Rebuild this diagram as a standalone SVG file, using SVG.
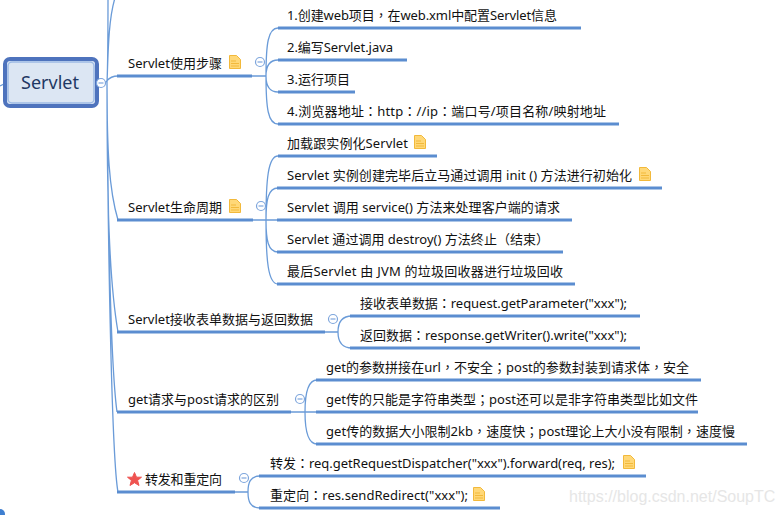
<svg xmlns="http://www.w3.org/2000/svg" width="782" height="515" viewBox="0 0 782 515">
<style>
text{font-family:"Noto Sans","Noto Sans CJK SC",sans-serif;font-size:13px;fill:#111}
tspan{font-family:"Noto Sans CJK TC",sans-serif}
.u{stroke:#5b8dd0;stroke-width:3;fill:none}
.c{stroke:#6a9bd8;stroke-width:1.300;fill:none}
.k{fill:#fff;stroke:#7da5dc;stroke-width:1.200}
.m{stroke:#7da5dc;stroke-width:1.200}
.n{fill:#ffd878;stroke:#f2b93b;stroke-width:1}
.l{stroke:#f2b93b;stroke-width:1}
</style>
<defs>
<g id="note"><path class="n" d="M0.500 0.500H7.500L11.500 4.500V13.500H0.500Z"/><path class="l" d="M2 6H7M2 8.500H10M2 11H10" fill="none"/></g>
<g id="tog"><circle class="k" r="4.500"/><path class="m" d="M-2.500 0H2.500"/></g>
</defs>
<rect width="782" height="515" fill="#fff"/>
<g id="connectors">
<path class="c" d="M101 83H104C107 83 107 76 118 76M107 83C108 60 108 20 108 -2M107 83C108 60 108 20 115 -2M107 83C107 150 109 190 118 220M107 83C107 200 109 280 118 332M107 83C108 220 110 360 117 412M107 83C108 260 112 460 118 492M0 86L6 83"/>
<path class="c" d="M252 76H266M266 76C266 44 268 28 278 28M266 76C266 68 268 60 278 60M266 76C266 84 268 92 278 92M266 76C266 108 268 124 278 124"/>
<path class="c" d="M253 220H266M266 220C266 180 268 156 278 156M266 220C266 200 268 188 278 188M266 220H278M266 220C266 240 268 252 278 252M266 220C266 260 268 284 278 284"/>
<path class="c" d="M325 332H338M338 332C338 322 342 316 352 316M338 332C338 342 342 348 352 348"/>
<path class="c" d="M291 412H305M305 412C305 395 307 380 317 380M305 412H317M305 412C305 429 307 444 317 444"/>
<path class="c" d="M235 492H248M248 492C248 483 250 476 260 476M248 492C248 501 250 508 260 508"/>
<path class="u" d="M117 76H252M117 220H253M117 332H325M117 412H291M117 492H235"/>
<path class="u" d="M278 28H581M278 60H407M278 92H355M278 124H619M278 156H437M277 188H662M277 220H572M277 252H563M277 284H575M350 316H640M350 348H640M316 380H701M316 412H698M316 444H747M259 476H646M259 508H500"/>
</g>
<g id="root">
<rect x="5" y="59" width="92" height="47" rx="5" fill="#dce6f3" stroke="#4e73bd" stroke-width="4"/>
<rect x="8" y="62" width="86" height="41" rx="4" fill="none" stroke="#9dbbe5" stroke-width="1.500"/>
<text x="50" y="89" text-anchor="middle" style="font-size:18px;fill:#1f3864">Servlet</text>
<use href="#tog" x="101" y="83"/>
</g>
<g id="b1"><text x="128" y="68" textLength="94">Servlet使用步骤</text><use href="#note" x="229" y="55"/><use href="#tog" x="260" y="62"/></g>
<g id="b1a"><text x="287" y="20" textLength="270">1.创建web项目<tspan>，</tspan>在web.xml中配置Servlet信息</text></g>
<g id="b1b"><text x="287" y="52" textLength="106">2.编写Servlet.java</text></g>
<g id="b1c"><text x="287" y="84" textLength="63">3.运行项目</text></g>
<g id="b1d"><text x="287" y="116" textLength="319">4.浏览器地址<tspan>：</tspan>http<tspan>：</tspan>//ip<tspan>：</tspan>端口号/项目名称/映射地址</text></g>
<g id="b2"><text x="128" y="212" textLength="94">Servlet生命周期</text><use href="#note" x="229" y="199"/><use href="#tog" x="261" y="206"/></g>
<g id="b2a"><text x="287" y="148" textLength="121">加载跟实例化Servlet</text><use href="#note" x="414" y="135"/></g>
<g id="b2b"><text x="287" y="180" textLength="345">Servlet 实例创建完毕后立马通过调用 init () 方法进行初始化</text><use href="#note" x="639" y="167"/></g>
<g id="b2c"><text x="287" y="212" textLength="273">Servlet 调用 service() 方法来处理客户端的请求</text></g>
<g id="b2d"><text x="287" y="244" textLength="262">Servlet 通过调用 destroy() 方法终止（结束）</text></g>
<g id="b2e"><text x="287" y="276" textLength="276">最后Servlet 由 JVM 的垃圾回收器进行垃圾回收</text></g>
<g id="b3"><text x="128" y="324" textLength="185">Servlet接收表单数据与返回数据</text><use href="#tog" x="333" y="319"/></g>
<g id="b3a"><text x="360" y="308" textLength="267">接收表单数据<tspan>：</tspan>request.getParameter("xxx");</text></g>
<g id="b3b"><text x="360" y="340" textLength="267">返回数据<tspan>：</tspan>response.getWriter().write("xxx");</text></g>
<g id="b4"><text x="128" y="404" textLength="151">get请求与post请求的区别</text><use href="#tog" x="300" y="399"/></g>
<g id="b4a"><text x="326" y="372" textLength="363">get的参数拼接在url<tspan>，</tspan>不安全<tspan>；</tspan>post的参数封装到请求体<tspan>，</tspan>安全</text></g>
<g id="b4b"><text x="326" y="404" textLength="372">get传的只能是字符串类型<tspan>；</tspan>post还可以是非字符串类型比如文件</text></g>
<g id="b4c"><text x="326" y="436" textLength="409">get传的数据大小限制2kb<tspan>，</tspan>速度快<tspan>；</tspan>post理论上大小没有限制<tspan>，</tspan>速度慢</text></g>
<g id="b5"><path d="M134.500 472.500L136.500 477.200H141.500L137.600 480.400L139 485.500L134.500 482.700L130 485.500L131.400 480.400L127.500 477.200H132.500Z" fill="#ef5350" stroke="#ef5350" stroke-linejoin="round"/><text x="145" y="484" textLength="77">转发和重定向</text><use href="#tog" x="244" y="478"/></g>
<g id="b5a"><text x="270" y="468" textLength="345">转发<tspan>：</tspan>req.getRequestDispatcher("xxx").forward(req, res);</text><use href="#note" x="623" y="455"/></g>
<g id="b5b"><text x="270" y="500" textLength="198">重定向<tspan>：</tspan>res.sendRedirect("xxx");</text><use href="#note" x="473" y="487"/></g>
<text x="569" y="502" style="font-size:16px;fill:#e6e6e6;font-family:'Liberation Sans',sans-serif">https://blog.csdn.net/SoupTC</text>
<circle cx="0" cy="514" r="5" fill="#3f7fd0"/>
</svg>
